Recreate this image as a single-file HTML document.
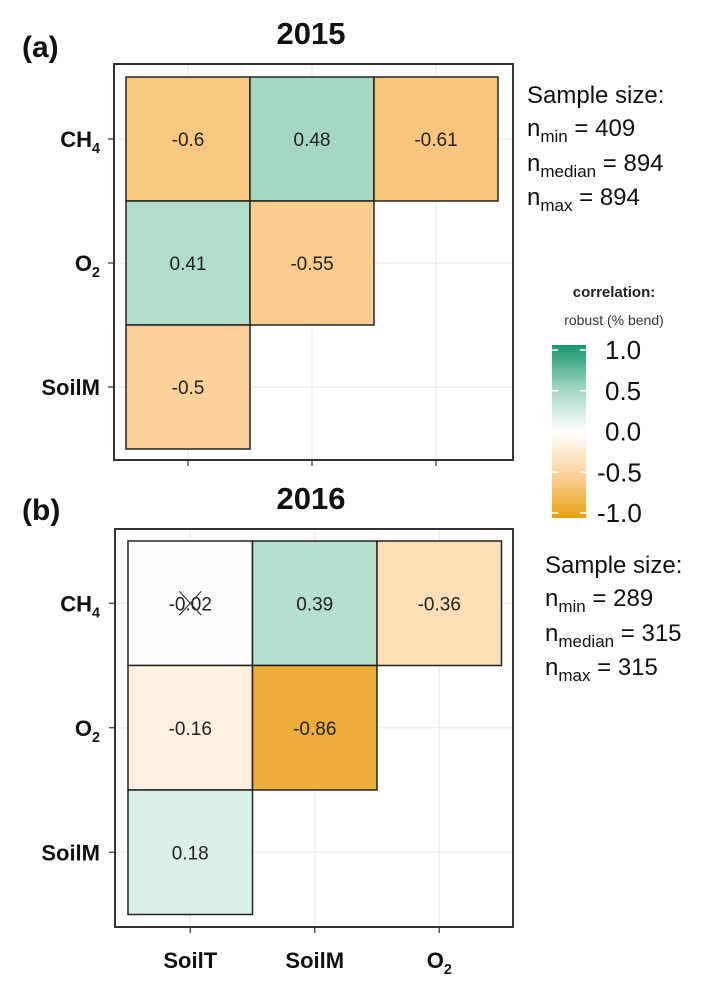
<!DOCTYPE html>
<html><head><meta charset="utf-8"><style>
body{margin:0;background:#fff;}
svg text{font-family:"Liberation Sans",Arial,sans-serif;}
</style></head><body>
<svg id="chart" width="728" height="993" xmlns="http://www.w3.org/2000/svg">
<defs>
<linearGradient id="lg" x1="0" y1="1" x2="0" y2="0">
<stop offset="0" stop-color="#e8a010"/>
<stop offset="0.25" stop-color="#fbd29b"/>
<stop offset="0.5" stop-color="#ffffff"/>
<stop offset="0.75" stop-color="#a0d6c0"/>
<stop offset="1" stop-color="#14966e"/>
</linearGradient>
</defs>
<g id="panels"></g>
<g>
<text x="614" y="297" font-size="15" font-weight="bold" text-anchor="middle" fill="#222">correlation:</text>
<text x="614" y="325" font-size="14" text-anchor="middle" fill="#333">robust (% bend)</text>
<rect x="552" y="345" width="34" height="173" fill="url(#lg)"/>
<g id="legticks"></g>
</g>
</svg>
<script>
const panelTitles = ["2015", "2016"];
const panelTags = ["(a)", "(b)"];
const rowLabels = ["CH4", "O2", "SoilM"];
const colLabels = ["SoilT", "SoilM", "O2"];
const values2015 = [[-0.6, 0.48, -0.61], [0.41, -0.55, null], [-0.5, null, null]];
const values2016 = [[-0.02, 0.39, -0.36], [-0.16, -0.86, null], [0.18, null, null]];
const insignificant2016 = [[true, false, false], [false, false, false], [false, false, false]];
const legendTicks = [1.0, 0.5, 0.0, -0.5, -1.0];
const sampleSizes = [[409, 894, 894], [289, 315, 315]];

const NS = "http://www.w3.org/2000/svg";
function mk(tag, attrs, parent) { const e = document.createElementNS(NS, tag); for (const k in attrs) e.setAttribute(k, attrs[k]); parent.appendChild(e); return e; }
function lerp(a, b, t) { return a.map((v, i) => Math.round(v + (b[i] - v) * t)); }
function color(v) {
  const W = [255, 255, 255], O5 = [252, 210, 155], O1 = [232, 160, 20], G5 = [160, 214, 192], G1 = [20, 150, 110];
  let c;
  if (v < 0) { const a = -v; c = a <= 0.5 ? lerp(W, O5, a / 0.5) : lerp(O5, O1, (a - 0.5) / 0.5); }
  else { c = v <= 0.5 ? lerp(W, G5, v / 0.5) : lerp(G5, G1, (v - 0.5) / 0.5); }
  return "rgb(" + c.join(",") + ")";
}
function lab(parent, label, x, y, size, anchor) {
  const t = mk("text", { x: x, y: y, "font-size": size, "font-weight": "bold", "text-anchor": anchor, fill: "#111" }, parent);
  const m = label.match(/^([A-Z]+)(\d)$/);
  if (m && (label === "CH4" || label === "O2")) {
    t.appendChild(document.createTextNode(m[1]));
    const s = mk("tspan", { "font-size": size * 0.65, dy: 6 }, t); s.textContent = m[2];
  } else t.textContent = label;
  return t;
}
const panelsG = document.getElementById("panels");
const layouts = [
  { fx: 114, fy: 64, fw: 399, fh: 396, cx: 126, cy: 77, cw: 124, ch: 124, tagY: 57, titleY: 44, vals: values2015, ins: null, sx: 527, sy: 103 },
  { fx: 115, fy: 529, fw: 398, fh: 398, cx: 128, cy: 541, cw: 124.5, ch: 124.5, tagY: 520, titleY: 509, vals: values2016, ins: insignificant2016, sx: 545, sy: 573 }
];
layouts.forEach((L, p) => {
  const g = mk("g", {}, panelsG);
  
  
  const xs = i => L.cx + L.cw * (i + 0.5);
  const ys = j => L.cy + L.ch * (j + 0.5);
  const tag = mk("text", { x: 22, y: L.tagY, "font-size": 30, "font-weight": "bold", fill: "#111" }, g); tag.textContent = panelTags[p];
  
  
  const tt = mk("text", { x: 311, y: L.titleY, "font-size": 31, "font-weight": "bold", "text-anchor": "middle", fill: "#111" }, g); tt.textContent = panelTitles[p];
  
  
  for (let i = 0; i < 3; i++) {
    mk("line", { x1: xs(i), x2: xs(i), y1: L.fy, y2: L.fy + L.fh, stroke: "#ebebeb", "stroke-width": 1.2 }, g);
    mk("line", { x1: L.fx, x2: L.fx + L.fw, y1: ys(i), y2: ys(i), stroke: "#ebebeb", "stroke-width": 1.2 }, g);
    mk("line", { x1: L.fx - 6, x2: L.fx, y1: ys(i), y2: ys(i), stroke: "#333", "stroke-width": 1.2 }, g);
    mk("line", { x1: xs(i), x2: xs(i), y1: L.fy + L.fh, y2: L.fy + L.fh + 6, stroke: "#333", "stroke-width": 1.2 }, g);
    const yl = lab(g, rowLabels[i], 100, ys(i) + 8, 22, "end");
    
    
  }
  L.vals.forEach((row, j) => row.forEach((v, i) => {
    if (v === null) return;
    const r = mk("rect", { x: L.cx + L.cw * i, y: L.cy + L.ch * j, width: L.cw, height: L.ch, fill: color(v), stroke: "#222", "stroke-width": 1.5 }, g);
    
    
    const t = mk("text", { x: xs(i), y: ys(j) + 7, "font-size": 19, "text-anchor": "middle", fill: "#222" }, g); t.textContent = String(v);
    
    
    if (L.ins && L.ins[j][i]) {
      mk("line", { x1: xs(i) - 11, y1: ys(j) - 12, x2: xs(i) + 11, y2: ys(j) + 12, stroke: "#222", "stroke-width": 1 }, g);
      mk("line", { x1: xs(i) + 11, y1: ys(j) - 12, x2: xs(i) - 11, y2: ys(j) + 12, stroke: "#222", "stroke-width": 1 }, g);
    }
  }));
  const fr = mk("rect", { x: L.fx, y: L.fy, width: L.fw, height: L.fh, fill: "none", stroke: "#333", "stroke-width": 2 }, g);
  
  
  const ss = mk("g", {}, g);
  
  
  const s0 = mk("text", { x: L.sx, y: L.sy, "font-size": 24, fill: "#111" }, ss); s0.textContent = "Sample size:";
  ["min", "median", "max"].forEach((k, q) => {
    const t = mk("text", { x: L.sx, y: L.sy + 34 * (q + 1) - (q ? 0 : 1), "font-size": 24, fill: "#111" }, ss);
    t.appendChild(document.createTextNode("n"));
    const sb = mk("tspan", { "font-size": 17, dy: 6 }, t); sb.textContent = k;
    const rest = mk("tspan", { dy: -6 }, t); rest.textContent = " = " + sampleSizes[p][q];
  });
});
const xg = mk("g", {}, panelsG);
colLabels.forEach((c, i) => {
  const t = lab(xg, c, 128 + 124.5 * (i + 0.5), 968, 22, "middle");
  
  
});
const lt = document.getElementById("legticks");
legendTicks.forEach(v => {
  const y = 350 + (1 - v) / 2 * 163;
  mk("line", { x1: 552, x2: 558, y1: y, y2: y, stroke: "#fff", "stroke-width": 1.5 }, lt);
  mk("line", { x1: 580, x2: 586, y1: y, y2: y, stroke: "#fff", "stroke-width": 1.5 }, lt);
  const t = mk("text", { x: v < 0 ? 597 : 605, y: y + 9, "font-size": 26, fill: "#111" }, lt); t.textContent = v.toFixed(1);
  
  
});
</script>
</body></html>
